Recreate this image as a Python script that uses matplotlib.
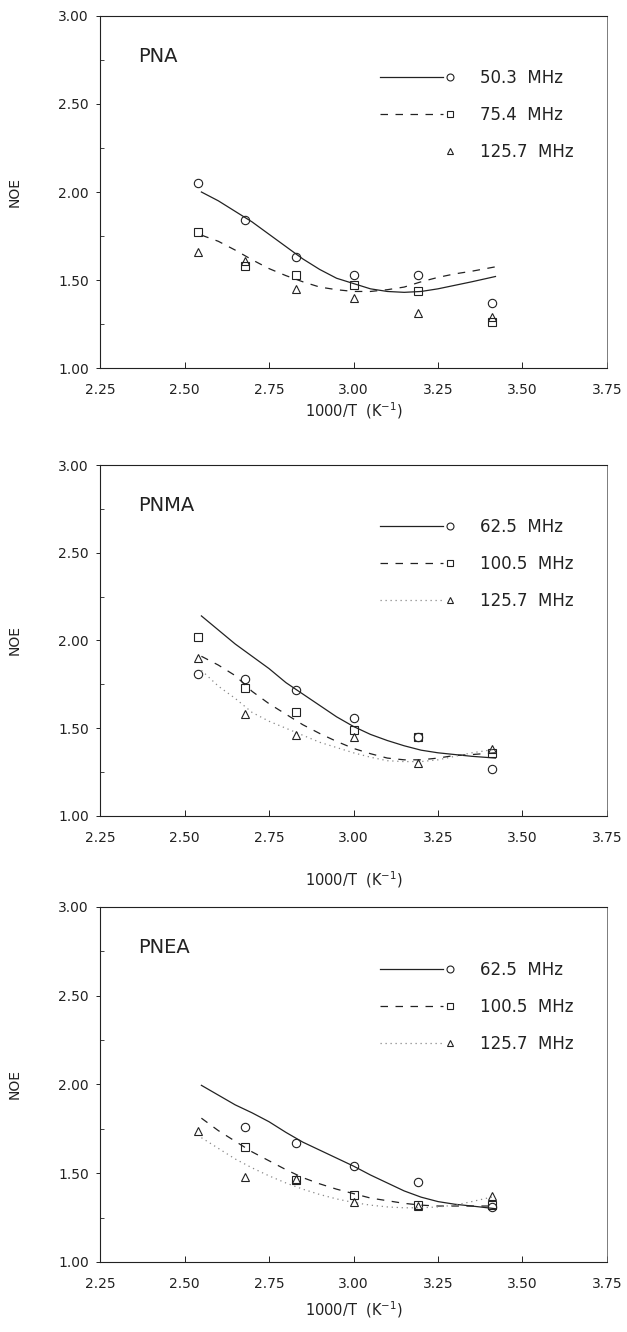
import matplotlib
matplotlib.use("Agg")
import matplotlib.pyplot as plt
from matplotlib.legend_handler import HandlerBase
from matplotlib.lines import Line2D
from matplotlib.ticker import MultipleLocator, FormatStrFormatter

# 1000/T positions of the measurements
temp_x = [2.54, 2.68, 2.83, 3.00, 3.19, 3.41]
temp_x5 = [2.68, 2.83, 3.00, 3.19, 3.41]

# PNA
pna_503 = [2.05, 1.84, 1.63, 1.53, 1.53, 1.37]
pna_754 = [1.77, 1.58, 1.53, 1.47, 1.44, 1.26]
pna_1257 = [1.66, 1.61, 1.45, 1.40, 1.31, 1.29]

# PNMA
pnma_625 = [1.81, 1.78, 1.72, 1.56, 1.45, 1.27]
pnma_1005 = [2.02, 1.73, 1.59, 1.49, 1.45, 1.36]
pnma_1257 = [1.90, 1.58, 1.46, 1.45, 1.30, 1.38]

# PNEA (no 62.5 / 100.5 point at the highest temperature)
pnea_625 = [1.76, 1.67, 1.54, 1.45, 1.31]
pnea_1005 = [1.65, 1.46, 1.375, 1.32, 1.32]
pnea_1257 = [1.74, 1.48, 1.47, 1.335, 1.315, 1.37]

# fitted curves
fit_x = [2.55, 2.60, 2.65, 2.70, 2.75, 2.80, 2.85, 2.90, 2.95,
         3.00, 3.05, 3.10, 3.15, 3.20, 3.25, 3.30, 3.35, 3.42]
pna_fit_503 = [2.00, 1.95, 1.89, 1.83, 1.76, 1.69, 1.62, 1.56, 1.51,
               1.48, 1.45, 1.435, 1.43, 1.435, 1.45, 1.47, 1.49, 1.52]
pna_fit_754 = [1.755, 1.72, 1.67, 1.615, 1.565, 1.525, 1.49, 1.46, 1.445,
               1.435, 1.435, 1.445, 1.46, 1.49, 1.515, 1.535, 1.55, 1.575]
pnma_fit_625 = [2.14, 2.06, 1.98, 1.91, 1.84, 1.76, 1.695, 1.63, 1.565,
                1.51, 1.465, 1.43, 1.40, 1.375, 1.36, 1.35, 1.34, 1.33]
pnma_fit_1005 = [1.91, 1.86, 1.80, 1.71, 1.64, 1.58, 1.52, 1.47, 1.425,
                 1.385, 1.355, 1.33, 1.32, 1.32, 1.33, 1.345, 1.35, 1.36]
pnma_fit_1257 = [1.83, 1.74, 1.67, 1.59, 1.54, 1.50, 1.46, 1.42, 1.39,
                 1.36, 1.335, 1.315, 1.31, 1.31, 1.32, 1.34, 1.36, 1.38]
pnea_fit_625 = [1.995, 1.94, 1.885, 1.84, 1.79, 1.73, 1.675, 1.63, 1.585,
                1.54, 1.49, 1.445, 1.40, 1.365, 1.34, 1.325, 1.315, 1.30]
pnea_fit_1005 = [1.81, 1.74, 1.68, 1.62, 1.57, 1.52, 1.475, 1.44, 1.41,
                 1.385, 1.36, 1.345, 1.33, 1.32, 1.315, 1.315, 1.315, 1.315]
pnea_fit_1257 = [1.70, 1.64, 1.58, 1.53, 1.485, 1.445, 1.41, 1.38, 1.355,
                 1.335, 1.32, 1.31, 1.305, 1.305, 1.31, 1.32, 1.34, 1.37]

ink = "#222222"
solid = dict(ls="-", lw=0.9, color=ink)
dashed = dict(ls=(0, (6, 6)), lw=0.9, color=ink)
dotted = dict(ls=(0, (1, 3)), lw=0.9, color="#888888")
markers = ["o", "s", "^"]
msizes = [6, 5.5, 6]


class LineMarkerHandler(HandlerBase):
    # line sample on the left, open marker at the right end
    def create_artists(self, legend, orig_handle, xdescent, ydescent,
                       width, height, fontsize, trans):
        line, pts = orig_handle
        y = height / 2 - ydescent
        x0 = -xdescent
        out = []
        if line is not None:
            seg = Line2D([x0, x0 + width * 0.9], [y, y])
            seg.update_from(line)
            seg.set_marker("None")
            seg.set_transform(trans)
            out.append(seg)
        dot = Line2D([x0 + width], [y])
        dot.update_from(pts)
        dot.set_linestyle("None")
        dot.set_markersize(5)
        dot.set_transform(trans)
        out.append(dot)
        return out


panels = [
    ("PNA", ["50.3", "75.4", "125.7"],
     [temp_x, temp_x, temp_x], [pna_503, pna_754, pna_1257],
     [pna_fit_503, pna_fit_754, None]),
    ("PNMA", ["62.5", "100.5", "125.7"],
     [temp_x, temp_x, temp_x], [pnma_625, pnma_1005, pnma_1257],
     [pnma_fit_625, pnma_fit_1005, pnma_fit_1257]),
    ("PNEA", ["62.5", "100.5", "125.7"],
     [temp_x5, temp_x5, temp_x], [pnea_625, pnea_1005, pnea_1257],
     [pnea_fit_625, pnea_fit_1005, pnea_fit_1257]),
]
styles = [solid, dashed, dotted]

# axes boxes [left, bottom, width, height] in figure fraction
boxes = [[0.1595, 0.7237, 0.8086, 0.2643],
         [0.1595, 0.3874, 0.8086, 0.2635],
         [0.1595, 0.0526, 0.8086, 0.2665]]
xlabel_pads = [2, 17, 6]

fig = plt.figure(figsize=(6.27, 13.32), dpi=100)

for k in range(3):
    name, freqs, xs, ys, fits = panels[k]
    ax = fig.add_axes(boxes[k])
    handles = []
    labels = []
    for i in range(3):
        ln = None
        if fits[i] is not None:
            ln, = ax.plot(fit_x, fits[i], **styles[i])
        pts, = ax.plot(xs[i], ys[i], ls="none", marker=markers[i],
                       ms=msizes[i], mfc="none", mec=ink, mew=0.8)
        handles.append((ln, pts))
        labels.append(freqs[i] + "  MHz")

    ax.legend(handles, labels, handler_map={tuple: LineMarkerHandler()},
              loc="upper left", bbox_to_anchor=(0.552, 0.849),
              frameon=False, fontsize=12, handlelength=4.2,
              handletextpad=1.8, labelspacing=1.14, borderpad=0,
              borderaxespad=0, labelcolor=ink)

    ax.text(0.075, 0.885, name, transform=ax.transAxes, fontsize=14,
            color=ink, va="center", ha="left")

    ax.set_xlim(2.25, 3.75)
    ax.set_ylim(1.0, 3.0)
    ax.xaxis.set_major_locator(MultipleLocator(0.25))
    ax.yaxis.set_major_locator(MultipleLocator(0.5))
    ax.yaxis.set_minor_locator(MultipleLocator(0.25))
    ax.xaxis.set_major_formatter(FormatStrFormatter("%.2f"))
    ax.yaxis.set_major_formatter(FormatStrFormatter("%.2f"))
    ax.tick_params(axis="x", direction="in", length=4, width=0.7,
                   pad=11, labelsize=10, colors=ink)
    ax.tick_params(axis="y", which="major", direction="out", length=3,
                   width=0.7, pad=5, labelsize=10, colors=ink)
    ax.tick_params(axis="y", which="minor", direction="in", length=3,
                   width=0.6, colors=ink)
    for side in ["left", "bottom", "top"]:
        ax.spines[side].set_linewidth(0.8)
        ax.spines[side].set_color(ink)
    ax.spines["right"].set_linewidth(0.6)
    ax.spines["right"].set_color("#666666")

    ax.set_xlabel("1000/T  (K$^{-1}$)", fontsize=10.5, color=ink,
                  labelpad=xlabel_pads[k])
    ax.set_ylabel("NOE", fontsize=10, color=ink, labelpad=26)

fig.savefig("out.png", dpi=100)
